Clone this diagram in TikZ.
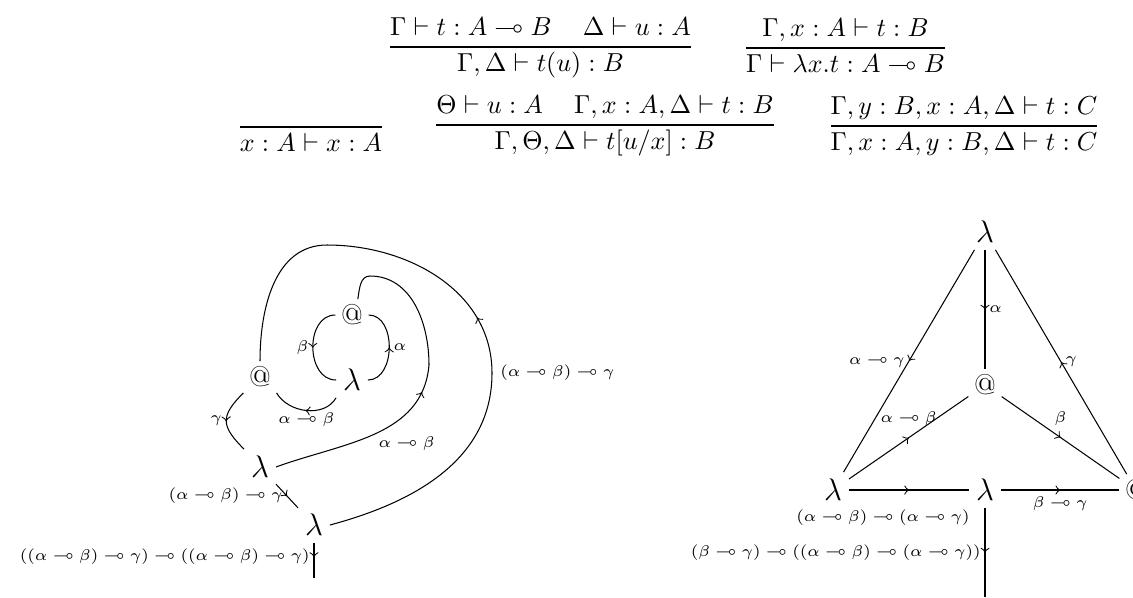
\documentclass[tikz,border=0pt]{standalone}
\usepackage{amsmath,amssymb}
\usepackage{tikz}
\usetikzlibrary{decorations.markings}

\tikzset{
  lam/.style={font=\large, inner sep=2.5pt},
  app/.style={font=\fontsize{11}{13}\selectfont, inner sep=2pt},
  lab/.style={font=\fontsize{6.3}{7.5}\selectfont, inner sep=1.5pt},
  wire/.style={postaction={decorate},
    decoration={markings, mark=at position #1 with {\arrow{>}}}},
  wire/.default=0.5
}

\begin{document}
\begin{tikzpicture}[x=0.3846pt, y=0.3846pt]
  \useasboundingbox (0,0) rectangle (1133,-597);
  % Typing rules
  \node[anchor=base] (rapp) at (540.5,-53.5)
    {$\dfrac{\Gamma \vdash t : A \multimap B \hspace{12pt} \Delta \vdash u : A}{\Gamma, \Delta \vdash t(u) : B}$};
  \node[anchor=base] (rabs) at (845.5,-54.5)
    {$\dfrac{\Gamma, x : A \vdash t : B}{\Gamma \vdash \lambda x.t : A \multimap B}$};
  \node[anchor=base] (rax) at (311,-133.5)
    {$\dfrac{}{x : A \vdash x : A}$};
  \node[anchor=base] (rcut) at (605,-131.5)
    {$\dfrac{\Theta \vdash u : A \hspace{12pt} \Gamma, x : A, \Delta \vdash t : B}{\Gamma, \Theta, \Delta \vdash t[u/x] : B}$};
  \node[anchor=base] (rex) at (964,-132.5)
    {$\dfrac{\Gamma, y : B, x : A, \Delta \vdash t : C}{\Gamma, x : A, y : B, \Delta \vdash t : C}$};

  % Left graph
  \node[app] (a1) at (352,-315) {@};
  \node[lam] (l1) at (352,-380) {$\lambda$};
  \node[app] (a2) at (260,-377) {@};
  \node[lam] (l2) at (260,-467) {$\lambda$};
  \node[lam] (l3) at (314,-525) {$\lambda$};
  \coordinate (o1) at (314,-578);

  \draw[wire] (a1.west) to[out=180,in=180,looseness=1.2]
    node[lab,left] {$\beta$} (l1.west);
  \draw[wire] (l1.east) to[out=0,in=0,looseness=1.1]
    node[lab,right] {$\alpha$} (a1.east);
  \draw[wire] (l1.south west) to[out=-120,in=-60]
    node[lab,below,inner sep=0.5pt] {$\alpha \multimap \beta$} (a2.south east);
  \draw[wire] (a2.south west) to[out=-135,in=135,looseness=1.5]
    node[lab,left] {$\gamma$} (l2.north west);
  \draw[wire] (l2) -- node[lab,left] {$(\alpha \multimap \beta) \multimap \gamma$} (l3);
  \draw[wire=0.4] (l3) -- node[lab,left,pos=0.4]
    {$((\alpha \multimap \beta) \multimap \gamma) \multimap ((\alpha \multimap \beta) \multimap \gamma)$} (o1);
  \draw[wire=0.49] (l2.east) to[out=20,in=-95]
    node[lab,pos=0.5,anchor=north west,inner sep=1pt] {$\alpha \multimap \beta$} (429,-365)
    to[out=90,in=0] (370,-276) to[out=180,in=80] (a1.70);
  \draw[wire=0.48] (l3.east) to[out=15,in=-90]
    node[lab,at end,right,inner sep=3pt] {$(\alpha \multimap \beta) \multimap \gamma$} (492,-373)
    to[out=90,in=0] (327,-245) to[out=180,in=90] (a2.north);

  % Right graph
  \node[lam] (tl) at (985,-232) {$\lambda$};
  \node[app] (ta) at (985,-385) {@};
  \node[lam] (ll) at (833,-490) {$\lambda$};
  \node[lam] (ml) at (985,-490) {$\lambda$};
  \node[app] (ra) at (1136,-490) {@};
  \coordinate (o2) at (985,-597);

  \draw[wire] (tl) -- node[lab,right] {$\alpha$} (ta);
  \draw[wire] (tl) -- node[lab,left] {$\alpha \multimap \gamma$} (ll);
  \draw[wire] (ra) -- node[lab,right] {$\gamma$} (tl);
  \draw[wire] (ll) -- node[lab,above=3pt] {$\alpha \multimap \beta$} (ta);
  \draw[wire] (ta) -- node[lab,above=3pt] {$\beta$} (ra);
  \draw[wire] (ll) -- node[lab,below=6pt,xshift=-10pt]
    {$(\alpha \multimap \beta) \multimap (\alpha \multimap \gamma)$} (ml);
  \draw[wire] (ml) -- node[lab,below=1pt] {$\beta \multimap \gamma$} (ra);
  \draw[wire] (ml) -- node[lab,left]
    {$(\beta \multimap \gamma) \multimap ((\alpha \multimap \beta) \multimap (\alpha \multimap \gamma))$} (o2);
\end{tikzpicture}
\end{document}
